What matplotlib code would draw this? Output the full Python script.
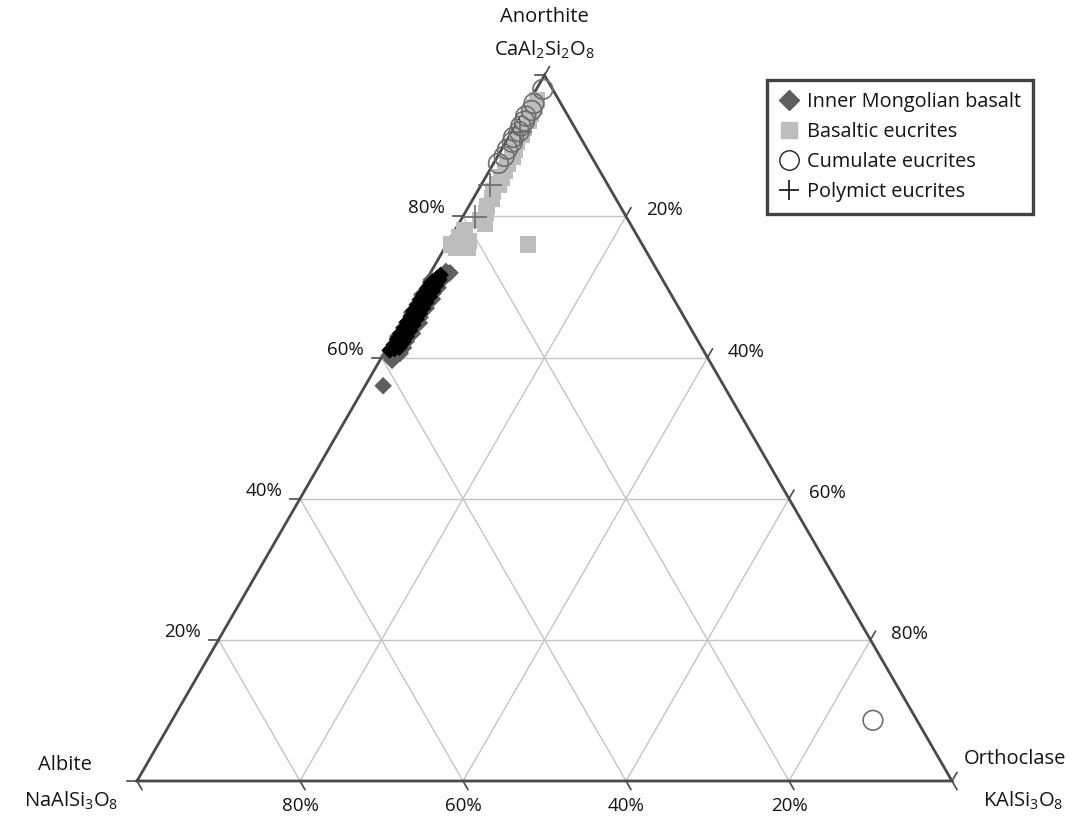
import numpy as np
import matplotlib
matplotlib.use("Agg")
import matplotlib.pyplot as plt
from matplotlib.lines import Line2D

plt.rcParams['font.family'] = ['Open Sans', 'DejaVu Sans']
plt.rcParams['mathtext.fontset'] = 'custom'
plt.rcParams['mathtext.rm'] = 'Open Sans'
plt.rcParams['mathtext.it'] = 'Open Sans'
plt.rcParams['mathtext.default'] = 'regular'

# Feldspar compositions in mol % (An = anorthite, Or = orthoclase, Ab = remainder)
# Inner Mongolian basalt, full set
imb_an = [56.0, 59.6, 60.2, 60.5, 60.9, 61.2, 61.4, 61.8, 62.0, 62.3, 62.5, 62.9,
          63.1, 63.4, 63.6, 63.9, 64.2, 64.4, 64.7, 64.9, 65.2, 65.5, 65.7, 66.0,
          66.2, 66.5, 66.8, 67.0, 67.3, 67.5, 67.8, 68.1, 68.3, 68.6, 68.8, 69.1,
          69.4, 69.6, 69.9, 70.1, 70.4, 70.7, 70.9, 71.2, 71.5, 71.9, 72.2, 61.0,
          62.7, 64.0, 65.9, 67.6, 69.2, 70.5, 63.0, 66.4, 68.9, 71.0, 60.6, 72.0]
imb_or = [2.2, 1.5, 0.8, 1.8, 1.2, 0.6, 2.0, 1.4, 0.9, 1.9, 1.1, 0.7,
          1.6, 2.1, 1.0, 1.3, 0.6, 1.8, 1.2, 2.2, 0.8, 1.5, 1.9, 0.7,
          1.2, 1.7, 0.9, 2.0, 1.3, 0.6, 1.6, 1.1, 2.1, 0.8, 1.4, 1.8,
          0.9, 1.3, 2.0, 1.0, 1.5, 0.7, 1.9, 1.2, 1.6, 2.3, 1.8, 1.3,
          1.0, 1.5, 1.2, 1.0, 1.4, 1.1, 0.5, 0.5, 0.5, 0.6, 2.0, 2.4]

# Inner Mongolian basalt, dense core of the population
imb_core_an = [61.0, 61.4, 61.8, 62.2, 62.6, 63.0, 63.4, 63.8, 64.2, 64.6, 65.0, 65.4,
               65.8, 66.2, 66.6, 67.0, 67.4, 67.8, 68.2, 68.6, 69.0, 69.4, 69.8, 70.2,
               70.6, 71.0, 71.4, 61.2, 61.6, 62.0, 62.4, 62.8, 63.2, 63.6, 64.0, 64.4,
               64.8, 65.2, 65.6, 66.0, 66.4, 66.8, 67.2, 67.6, 68.0, 68.4, 68.8, 69.2,
               69.6, 70.0, 70.4, 70.8, 71.2, 71.7]
imb_core_or = [0.5, 1.5, 0.6, 1.6, 0.6, 1.6, 0.6, 1.6, 0.7, 1.6, 0.6, 1.6,
               0.7, 1.6, 0.6, 1.6, 0.7, 1.6, 0.6, 1.6, 0.7, 1.6, 0.7, 1.6,
               0.8, 1.6, 1.3, 1.0, 1.0, 1.0, 1.1, 1.1, 1.0, 1.1, 1.1, 1.0,
               1.1, 1.0, 1.1, 1.0, 1.1, 1.0, 1.1, 1.0, 1.1, 1.0, 1.1, 1.0,
               1.1, 1.0, 1.1, 1.2, 1.2, 1.4]

beu_an = [96.5, 95.5, 94.5, 93.5, 92.5, 91.5, 90.5, 89.5, 88.5, 87.5, 86.5, 85.5,
          84.5, 83.5, 82.5, 81.5, 80.5, 79.5, 79.0, 78.0, 77.0, 76.5, 75.5, 75.5,
          76.0, 76.0]
beu_or = [0.8, 1.0, 1.1, 1.3, 1.2, 1.5, 1.4, 1.6, 1.8, 1.7, 1.9, 2.0,
          2.1, 1.9, 2.3, 2.2, 2.6, 2.4, 3.2, 1.2, 1.0, 2.5, 1.4, 2.8,
          0.5, 10.0]

ceu_an = [98.0, 96.0, 95.0, 94.2, 93.5, 92.8, 92.0, 91.2, 90.5, 89.5, 88.5, 87.5, 8.6]
ceu_or = [0.8, 0.7, 0.9, 0.6, 0.8, 0.7, 0.9, 0.6, 0.8, 0.7, 0.8, 0.6, 86.0]

peu_an = [84.4, 79.9, 92.0]
peu_or = [1.1, 1.5, 1.0]

grid_levels = [20, 40, 60, 80]
tick_levels = [0, 20, 40, 60, 80, 100]

H = np.sqrt(3) / 2


def to_xy(an, orth):
    an = np.asarray(an, float) / 100.0
    orth = np.asarray(orth, float) / 100.0
    return orth + an / 2.0, an * H


fig = plt.figure(figsize=(10.78, 8.18), dpi=100)
ax = fig.add_axes([0, 0, 1, 1])
ax.set_xlim(-137 / 815, (1078 - 137) / 815)
ax.set_ylim(-(818 - 781) / 815, 781 / 815)
ax.axis('off')

grid_c = '#c4c4c4'
edge_c = '#4a4a4a'
text_c = '#141414'

# grid lines for each component
for g in grid_levels:
    # constant An (horizontal)
    x, y = to_xy([g, g], [0, 100 - g])
    ax.plot(x, y, color=grid_c, lw=1.0, zorder=1)
    # constant Or (parallel to the albite-anorthite edge)
    x, y = to_xy([0, 100 - g], [g, g])
    ax.plot(x, y, color=grid_c, lw=1.0, zorder=1)
    # constant Ab (parallel to the orthoclase-anorthite edge)
    x, y = to_xy([0, 100 - g], [100 - g, 0])
    ax.plot(x, y, color=grid_c, lw=1.0, zorder=1)

# triangle outline
x, y = to_xy([0, 0, 100, 0], [0, 100, 0, 0])
ax.plot(x, y, color=edge_c, lw=2.0, zorder=2, solid_joinstyle='miter')

# ticks continue the grid lines outside the triangle
tl = 0.012
for t in tick_levels:
    x, y = to_xy([t], [0])
    ax.plot([x[0], x[0] - tl], [y[0], y[0]], color=edge_c, lw=1.2, zorder=2)
    x, y = to_xy([100 - t], [t])
    ax.plot([x[0], x[0] + tl * 0.5], [y[0], y[0] + tl * H], color=edge_c, lw=1.2, zorder=2)
    x, y = to_xy([0], [100 - t])
    ax.plot([x[0], x[0] + tl * 0.5], [y[0], y[0] - tl * H], color=edge_c, lw=1.2, zorder=2)

px = 1 / 815
fs_tick = 13.5
for g in grid_levels:
    x, y = to_xy([g], [0])
    ax.text(x[0] - 18 * px, y[0] + 8 * px, f"{g}%", ha='right', va='center',
            fontsize=fs_tick, color=text_c)
    x, y = to_xy([100 - g], [g])
    ax.text(x[0] + 20 * px, y[0] + 6 * px, f"{g}%", ha='left', va='center',
            fontsize=fs_tick, color=text_c)
    x, y = to_xy([0], [100 - g])
    ax.text(x[0], y[0] - 25 * px, f"{g}%", ha='center', va='center',
            fontsize=fs_tick, color=text_c)

# vertex labels
fs_v = 14.5
xt, yt = to_xy([100], [0])
ax.text(xt[0], yt[0] + 58 * px, "Anorthite", ha='center', va='center', fontsize=fs_v, color=text_c)
ax.text(xt[0], yt[0] + 25 * px, r"CaAl$_2$Si$_2$O$_8$", ha='center', va='center', fontsize=fs_v, color=text_c)
xl, yl = to_xy([0], [0])
ax.text(xl[0] - 72 * px, yl[0] + 16 * px, "Albite", ha='center', va='center', fontsize=fs_v, color=text_c)
ax.text(xl[0] - 66 * px, yl[0] - 20 * px, r"NaAlSi$_3$O$_8$", ha='center', va='center', fontsize=fs_v, color=text_c)
xr, yr = to_xy([0], [100])
ax.text(xr[0] + 63 * px, yr[0] + 22 * px, "Orthoclase", ha='center', va='center', fontsize=fs_v, color=text_c)
ax.text(xr[0] + 71 * px, yr[0] - 20 * px, r"KAlSi$_3$O$_8$", ha='center', va='center', fontsize=fs_v, color=text_c)

# data
dia_c = '#5e5e5e'
sq_c = '#bdbdbd'

x, y = to_xy(imb_an, imb_or)
ax.scatter(x, y, marker='D', s=80, facecolor=dia_c, edgecolor='none', zorder=4)
x, y = to_xy(imb_core_an, imb_core_or)
ax.scatter(x, y, marker='D', s=72, facecolor='#000000', edgecolor='none', zorder=4.5)
x, y = to_xy(beu_an, beu_or)
ax.scatter(x, y, marker='s', s=140, facecolor=sq_c, edgecolor='none', zorder=3)
x, y = to_xy(ceu_an, ceu_or)
ax.scatter(x, y, marker='o', s=200, facecolor='none', edgecolor='#6e6e6e', linewidths=1.2, zorder=5)
x, y = to_xy(peu_an, peu_or)
ax.scatter(x, y, marker='+', s=280, color='#6a6a6a', linewidths=1.2, zorder=6)

handles = [
    Line2D([], [], ls='none', marker='D', markersize=10.5, markerfacecolor=dia_c, markeredgecolor=dia_c),
    Line2D([], [], ls='none', marker='s', markersize=12, markerfacecolor=sq_c, markeredgecolor=sq_c),
    Line2D([], [], ls='none', marker='o', markersize=14, markerfacecolor='white', markeredgecolor='#222222', markeredgewidth=1.0),
    Line2D([], [], ls='none', marker='+', markersize=14, color='#222222', markeredgewidth=1.3),
]
labels = ["Inner Mongolian basalt", "Basaltic eucrites", "Cumulate eucrites", "Polymict eucrites"]
leg = ax.legend(handles, labels, loc='upper right',
                bbox_to_anchor=(1033 / 1078, 1 - 80 / 818), bbox_transform=fig.transFigure,
                fontsize=14.3, frameon=True, fancybox=False, borderaxespad=0,
                handlelength=1.0, handletextpad=0.4, labelspacing=0.5,
                borderpad=0.6)
leg.get_frame().set_edgecolor('#111111')
leg.get_frame().set_linewidth(2.4)
for t in leg.get_texts():
    t.set_color(text_c)

fig.savefig('out.png', dpi=100)
